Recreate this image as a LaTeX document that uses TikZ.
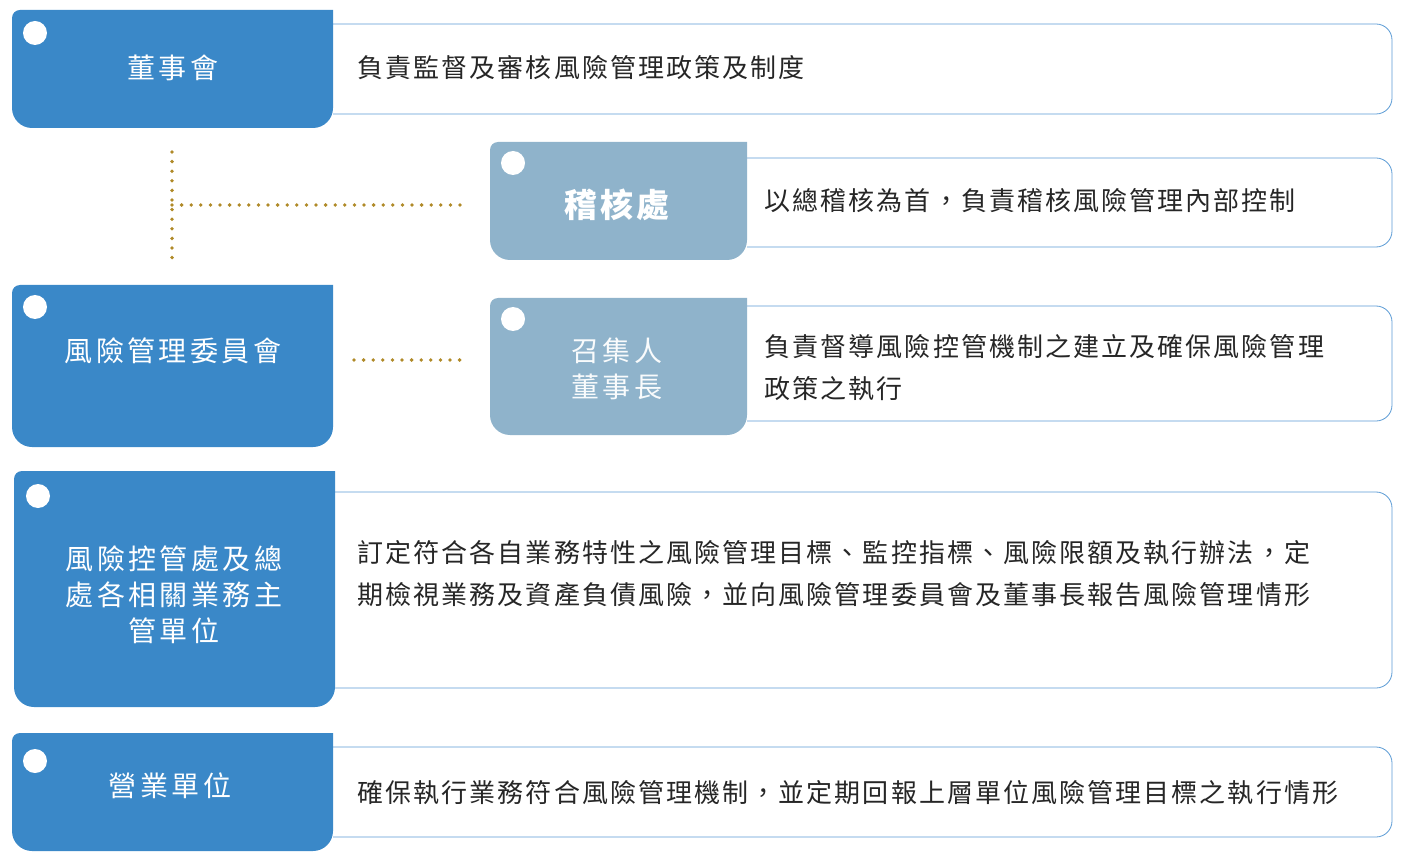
\documentclass[tikz,border=0pt]{standalone}
\usepackage{fontspec}
\setmainfont{Noto Sans CJK TC}
\usepackage{xcolor}
\definecolor{unitblue}{HTML}{3A88C8}
\definecolor{unitgrey}{HTML}{8FB3CB}
\definecolor{dotgold}{HTML}{B08A28}
\definecolor{framblue}{HTML}{5B9BD5}
\newcommand\unitbox[5]{% colour, x1, y1, x2, y2
  \fill[#1] (#4,#3) [rounded corners=8] -- (#2,#3) [rounded corners=20] -- (#2,#5) -- (#4,#5) [sharp corners] -- cycle;}
\newcommand\descbox[4]{% x1, y1, x2, y2
  \draw[framblue, line width=0.8pt, fill=white, rounded corners=16] (#1,#2) -- (#3,#2) -- (#3,#4) -- (#1,#4);}
\tikzset{
  unitlabel/.style={text=white, align=center, font=\fontsize{28}{36}\selectfont\addfontfeatures{LetterSpace=12}},
  desctext/.style={anchor=west, align=left, text=black!85, font=\fontsize{26}{42}\selectfont\addfontfeatures{LetterSpace=8}},
  dot/.style={circle, fill=white, inner sep=0pt, minimum size=24pt},
  dotline/.style={dotgold, line width=3.8pt, line cap=round, dash pattern=on 0pt off 9.6pt}
}
\begin{document}
\begin{tikzpicture}[x=1pt, y=-1pt]
\useasboundingbox (0,0) rectangle (1412,866);

% description frames
\descbox{333}{24}{1392}{114}
\descbox{747}{158}{1392}{247}
\descbox{747}{306}{1392}{421}
\descbox{335}{492}{1392}{688}
\descbox{333}{747}{1392}{837}

% unit boxes
\unitbox{unitblue}{12}{10}{333}{128}
\unitbox{unitgrey}{490}{142}{747}{260}
\unitbox{unitblue}{12}{285}{333}{447}
\unitbox{unitgrey}{490}{298}{747}{435}
\unitbox{unitblue}{14}{471}{335}{707}
\unitbox{unitblue}{12}{733}{333}{851}

\node[dot] (d1) at (35,33) {};
\node[dot] (d2) at (513,163) {};
\node[dot] (d3) at (35,307) {};
\node[dot] (d4) at (513,319) {};
\node[dot] (d5) at (38,496) {};
\node[dot] (d6) at (35,761) {};

% labels
\node[unitlabel] (board) at (173,68) {董事會};
\node[unitlabel, font=\fontsize{33}{36}\bfseries\selectfont\addfontfeatures{LetterSpace=10}] (audit) at (617,205) {稽核處};
\node[unitlabel] (rmc) at (173,351) {風險管理委員會};
\node[unitlabel, text=white!95!unitgrey] (chair) at (617,369) {召集人\\董事長};
\node[unitlabel] (rmd) at (174,595) {風險控管處及總\\處各相關業務主\\管單位};
\node[unitlabel] (sales) at (170,786) {營業單位};

% descriptions
\node[desctext] (t1) at (354,68) {負責監督及審核風險管理政策及制度};
\node[desctext] (t2) at (761,201) {以總稽核為首，負責稽核風險管理內部控制};
\node[desctext] (t3) at (761,368) {負責督導風險控管機制之建立及確保風險管理\\政策之執行};
\node[desctext] (t4) at (354,574) {訂定符合各自業務特性之風險管理目標、監控指標、風險限額及執行辦法，定\\期檢視業務及資產負債風險，並向風險管理委員會及董事長報告風險管理情形};
\node[desctext] (t5) at (354,793) {確保執行業務符合風險管理機制，並定期回報上層單位風險管理目標之執行情形};

% dotted links
\coordinate (c1) at (172,205);
\coordinate (c2) at (354,360);
\coordinate (c3) at (465,360);
\draw[dotline] (172,152) -- (172,266);
\draw[dotline] (c1) -- (audit.west -| 468,0);
\draw[dotline] (c2) -- (c3);
\end{tikzpicture}
\end{document}
